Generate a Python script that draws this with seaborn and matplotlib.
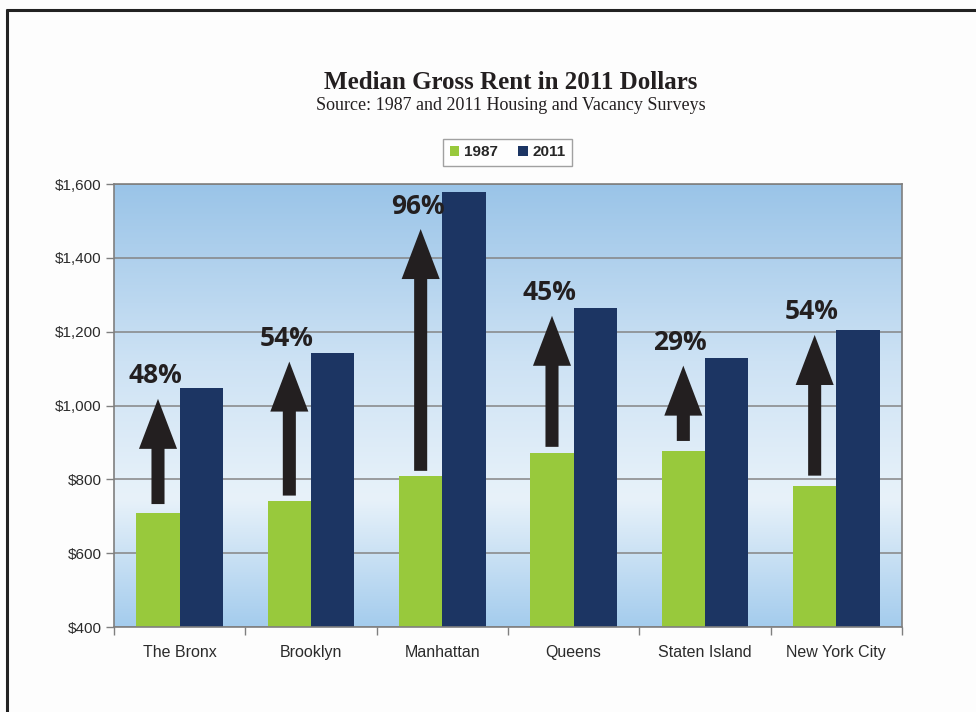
import numpy as np
import pandas as pd
import matplotlib
matplotlib.use("Agg")
import matplotlib.pyplot as plt
from matplotlib.lines import Line2D
from matplotlib.colors import LinearSegmentedColormap
import seaborn as sns

# ---------------- data ----------------
regions = ["The Bronx", "Brooklyn", "Manhattan", "Queens", "Staten Island", "New York City"]
years = ["1987", "2011"]
rent_1987 = [710, 741, 809, 871, 877, 783]
rent_2011 = [1048, 1142, 1578, 1265, 1130, 1204]
pct_labels = ["48%", "54%", "96%", "45%", "29%", "54%"]
arrow_tail = [733, 756, 823, 888, 904, 810]
arrow_tip = [1018, 1119, 1478, 1243, 1108, 1191]
y_ticks = [400, 600, 800, 1000, 1200, 1400, 1600]
y_tick_labels = ["$400", "$600", "$800", "$1,000", "$1,200", "$1,400", "$1,600"]

title = "Median Gross Rent in 2011 Dollars"
subtitle = "Source: 1987 and 2011 Housing and Vacancy Surveys"

df = pd.DataFrame({
    "Region": regions * 2,
    "Year": [years[0]] * len(regions) + [years[1]] * len(regions),
    "Rent": rent_1987 + rent_2011,
})

GREEN = "#98c93c"
NAVY = "#1c3563"
ARROW = "#231f20"
GRID = "#858585"

sns.set_theme(style="white")
plt.rcParams["font.family"] = ["Liberation Sans", "DejaVu Sans"]

W, H = 976, 712
fig = plt.figure(figsize=(W / 100, H / 100), dpi=100, facecolor="#fdfdfd")
L, R, T, B = 114, 902, 184, 627
ax = fig.add_axes([L / W, 1 - B / H, (R - L) / W, (B - T) / H])

# gradient background
cmap = LinearSegmentedColormap.from_list(
    "bg", [(0.0, "#a4cced"), (0.29, "#e8f2fa"), (0.6, "#cde2f4"), (1.0, "#9ac4e8")])
grad = np.linspace(0, 1, 256).reshape(-1, 1)
ax.imshow(grad, cmap=cmap, aspect="auto", extent=[0, 1, 0, 1],
          transform=ax.transAxes, origin="lower", zorder=0.1)

sns.barplot(data=df, x="Region", y="Rent", hue="Year", order=regions,
            hue_order=years, palette=[GREEN, NAVY], width=0.66, gap=0,
            saturation=1, edgecolor="none", linewidth=0, ax=ax, zorder=2)

ax.set_xlim(-0.5, len(regions) - 0.5)
ax.set_ylim(y_ticks[0], y_ticks[-1])
ax.set_yticks(y_ticks)
ax.set_yticklabels(y_tick_labels)
ax.set_xlabel("")
ax.set_ylabel("")
ax.set_axisbelow(True)
ax.yaxis.grid(True, color=GRID, linewidth=1.1, zorder=0.5)
ax.xaxis.grid(False)

ax.set_xticks(range(len(regions)))
ax.set_xticklabels(regions)
ax.set_xticks(np.arange(-0.5, len(regions), 1.0), minor=True)
ax.tick_params(axis="x", which="major", length=0, pad=13, labelsize=11.5, labelcolor="#2b2b2b")
ax.tick_params(axis="x", which="minor", length=6, width=1, color="#7f7f7f", direction="out", bottom=True)
ax.tick_params(axis="y", length=6, width=1, color="#7f7f7f", direction="out", left=True,
               pad=3, labelsize=11, labelcolor="#2b2b2b")
for s in ax.spines.values():
    s.set_visible(True)
    s.set_color("#7f7f7f")
    s.set_linewidth(1.2)

# arrows and percent labels
dx = -0.165
for i, (tail, tip, lbl) in enumerate(zip(arrow_tail, arrow_tip, pct_labels)):
    x = i + dx
    ax.annotate("", xy=(x, tip), xytext=(x, tail),
                arrowprops=dict(arrowstyle="simple,head_length=36,head_width=27.4,tail_width=9.4",
                                mutation_scale=1, shrinkA=0, shrinkB=0,
                                color=ARROW, linewidth=0), zorder=3)
    ax.annotate(lbl, xy=(x, tip), xytext=(-3, 23), textcoords="offset pixels",
                ha="center", va="center", fontsize=19, fontweight="bold",
                family="Open Sans", color=ARROW, zorder=4)

# legend
leg = ax.legend(loc="center", bbox_to_anchor=(507.5 / W, 1 - 152.5 / H),
                bbox_transform=fig.transFigure, ncol=2, frameon=True,
                fancybox=False, handlelength=0.65, handleheight=0.65,
                handletextpad=0.3, columnspacing=1.3, borderpad=0.45,
                prop=dict(family="Liberation Sans", weight="bold", size=11))
leg.get_frame().set_edgecolor("#8a8a8a")
leg.get_frame().set_linewidth(1.0)
leg.get_frame().set_facecolor("white")

# title and subtitle
fig.text(511 / W, 1 - 89 / H, title, ha="center", va="baseline",
         family="Liberation Serif", fontweight="bold", fontsize=18, color="#231f20")
fig.text(511 / W, 1 - 109.5 / H, subtitle, ha="center", va="baseline",
         family="Liberation Serif", fontsize=13, color="#231f20")

# outer frame (top and left edges)
fig.add_artist(Line2D([6 / W, 1], [1 - 10 / H, 1 - 10 / H], transform=fig.transFigure,
                      color="#222222", linewidth=2.2, solid_capstyle="butt"))
fig.add_artist(Line2D([7 / W, 7 / W], [0, 1 - 9 / H], transform=fig.transFigure,
                      color="#222222", linewidth=2.2, solid_capstyle="butt"))

fig.savefig("out.png", dpi=100, facecolor=fig.get_facecolor())
